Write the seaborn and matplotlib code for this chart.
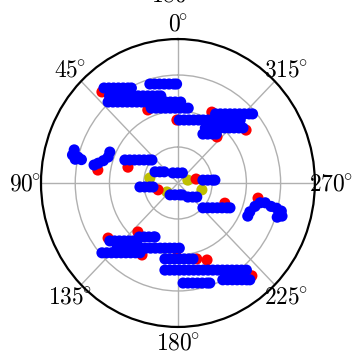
import numpy as np
import pandas as pd
import matplotlib
matplotlib.use("Agg")
import matplotlib.pyplot as plt
import seaborn as sns

plt.rcParams["mathtext.fontset"] = "cm"

# Angle tick labels (degrees, zero at top, counter-clockwise)
theta_ticks = [0, 45, 90, 135, 180, 225, 270, 315]
theta_labels = [r"$0^{\!\!\circ}$", r"$45^{\!\!\circ}$", r"$90^{\!\!\circ}$", r"$135^{\!\!\circ}$",
                r"$180^{\!\!\circ}$", r"$225^{\!\!\circ}$", r"$270^{\!\!\circ}$", r"$315^{\!\!\circ}$"]
r_ticks = [1, 2, 3]
r_max = 4

# Point positions as (vertical component, [horizontal components])
blue_upper = [
    (2.64, [-2.16, -2.02, -1.88, -1.74, -1.60, -1.46, -1.36]),
    (2.75, [-0.82, -0.68, -0.54, -0.40, -0.26, -0.12, -0.04]),
    (2.42, [-2.00, -1.86, -1.72, -1.58, -1.44, -1.30, -1.16, -1.02, -0.88, -0.74, -0.60, -0.50]),
    (2.25, [-2.04, -1.90, -1.76, -1.62, -1.48, -1.34, -1.20, -1.06, -0.92, -0.78, -0.64,
            -0.50, -0.36, -0.22, -0.08, 0.08]),
    (2.08, [-0.78, -0.64, -0.50, -0.36, -0.22, -0.08, 0.06, 0.20, 0.30]),
    (1.75, [0.04, 0.18, 0.32, 0.46, 0.60, 0.74, 0.88, 1.02, 1.16, 1.30, 1.44, 1.58, 1.72, 1.82]),
    (1.92, [1.10, 1.24, 1.38, 1.52, 1.66, 1.80, 1.94, 2.08, 2.18]),
    (1.53, [0.80, 0.94, 1.08, 1.22, 1.36, 1.50, 1.64, 1.78, 1.90]),
    (1.36, [0.73, 0.87, 1.01, 1.12]),
]
blue_middle = [
    (0.31, [-0.67, -0.53, -0.40]),
    (0.28, [-0.15, -0.01, 0.13]),
    (0.08, [0.73, 0.87, 1.01, 1.08]),
    (-0.11, [-1.11, -0.97, -0.83, -0.73]),
    (-0.33, [-0.23, -0.09, 0.05, 0.12]),
    (-0.39, [0.29, 0.43, 0.55]),
    (0.64, [-1.55, -1.41, -1.27, -1.13, -0.99, -0.85, -0.76]),
    (-0.69, [0.73, 0.87, 1.01, 1.15, 1.29, 1.43, 1.52]),
]
blue_blobs_x = [-3.03, -3.08, -2.92, -2.82, -3.00,
                -1.99, -2.04, -2.18, -2.33, -2.45,
                2.04, 2.10, 2.25, 2.40, 2.55,
                2.72, 2.88, 3.02, 3.04, 2.90]
blue_blobs_y = [0.92, 0.78, 0.72, 0.65, 0.66,
                0.86, 0.72, 0.62, 0.55, 0.50,
                -0.92, -0.80, -0.65, -0.55, -0.55,
                -0.65, -0.70, -0.78, -0.92, -0.95]
blue_lower = [
    (-1.61, [-1.99, -1.85, -1.71, -1.57, -1.43, -1.29, -1.20]),
    (-1.50, [-1.13, -0.99, -0.85, -0.71, -0.67]),
    (-1.81, [-1.78, -1.64, -1.50, -1.36, -1.22, -1.08, -0.94, -0.80, -0.66, -0.52,
             -0.38, -0.24, -0.10, 0.04]),
    (-1.94, [-2.22, -2.08, -1.94, -1.80, -1.66, -1.52, -1.38, -1.24, -1.11]),
    (-2.11, [-0.38, -0.24, -0.10, 0.04, 0.18, 0.32, 0.44]),
    (-2.42, [-0.38, -0.24, -0.10, 0.04, 0.18, 0.32, 0.46, 0.60, 0.74, 0.88, 1.02, 1.16,
             1.30, 1.44, 1.58, 1.72, 1.86, 2.00]),
    (-2.78, [0.15, 0.29, 0.43, 0.57, 0.71, 0.85, 0.93]),
    (-2.69, [1.31, 1.45, 1.59, 1.73, 1.87, 2.01, 2.10]),
]
red_x = [-2.22, -0.88, -0.03, 0.99, 1.99, 1.14, 0.53, -0.58, -1.46, -2.34,
         1.37, 2.34, -2.04, -1.17, -1.05, -0.03, 0.55, 0.85, 2.16]
red_y = [2.53, 2.03, 1.75, 1.97, 1.47, 1.28, 0.11, -0.19, 0.44, 0.36,
         -0.56, -0.42, -1.53, -1.36, -2.00, -1.86, -2.11, -2.14, -2.58]
yellow_x = [-0.82, 0.29, -0.32, 0.70]
yellow_y = [0.14, 0.08, -0.25, -0.19]


def expand(rows):
    xs, ys = [], []
    for y, row in rows:
        xs += list(row)
        ys += [y] * len(row)
    return xs, ys


bx, by = [], []
for grp in (blue_upper, blue_middle, blue_lower):
    gx, gy = expand(grp)
    bx += gx
    by += gy
bx += blue_blobs_x
by += blue_blobs_y

frames = []
for kind, xs, ys in (("yellow", yellow_x, yellow_y), ("red", red_x, red_y), ("blue", bx, by)):
    xs = np.asarray(xs, float)
    ys = np.asarray(ys, float)
    frames.append(pd.DataFrame({
        "theta": np.mod(np.arctan2(-xs, ys), 2 * np.pi),
        "r": np.hypot(xs, ys),
        "kind": kind,
    }))
df = pd.concat(frames, ignore_index=True)

fig = plt.figure(figsize=(3.52, 3.55), dpi=100)
ax = fig.add_axes([0.1165, 0.079, 0.778, 0.811], projection="polar")
ax.set_theta_zero_location("N")
ax.set_theta_direction(1)

sns.scatterplot(data=df, x="theta", y="r", hue="kind",
                palette={"blue": "#0000ff", "red": "#ff0000", "yellow": "#bfbf00"},
                s=64, linewidth=0, legend=False, ax=ax, zorder=3)

ax.set_aspect("auto")
ax.set_rlim(0, r_max)
ax.set_rticks(r_ticks)
ax.set_yticklabels([])
ax.set_xticks(np.deg2rad(theta_ticks))
ax.set_xticklabels(theta_labels, fontsize=17)
ax.tick_params(axis="x", pad=1)
ax.set_xlabel("")
ax.set_ylabel("")
ax.grid(True, color="#b0b0b0", linewidth=1.0)
ax.spines["polar"].set_linewidth(1.6)
ax.spines["polar"].set_color("black")

fig.text(0.49, 0.982, r"$180^{\!\!\circ}$", ha="center", va="bottom", fontsize=17)

fig.savefig("out.png", dpi=100)
